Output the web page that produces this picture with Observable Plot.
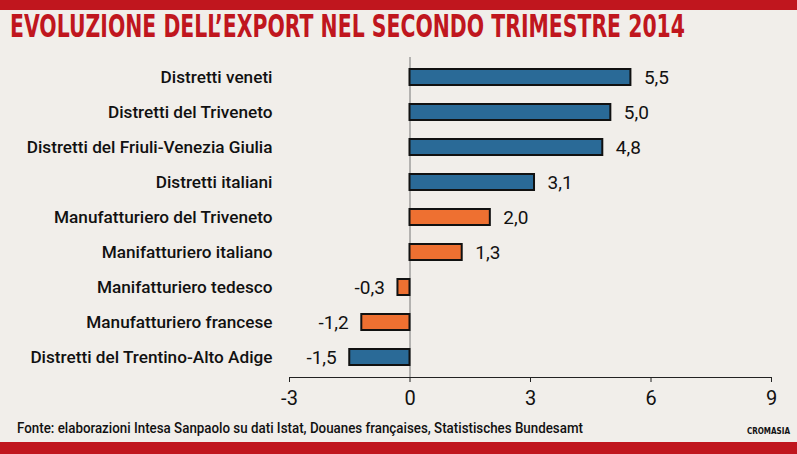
<!DOCTYPE html>
<html>
<head>
<meta charset="utf-8">
<script src="https://cdn.jsdelivr.net/npm/d3@7"></script>
<script src="https://cdn.jsdelivr.net/npm/@observablehq/plot@0.6"></script>
<style>
  html, body { margin: 0; padding: 0; }
  body { width: 797px; height: 454px; background: #f1eeea; position: relative; overflow: hidden; font-family: Roboto, "Open Sans", sans-serif; }
  #topband { position: absolute; left: 0; top: 0; width: 797px; height: 10px; background: #c0161e; }
  #title { position: absolute; left: 10px; top: 7px; font-family: "Liberation Sans Narrow", "DejaVu Sans Condensed", sans-serif; font-weight: bold; font-size: 32px; color: #c0161e; white-space: nowrap; transform-origin: left top; }
  #chart { position: absolute; left: 0; top: 50px; }
  #caption { position: absolute; left: 17px; top: 419px; font-size: 15px; color: #111; white-space: nowrap; font-weight: 500; transform-origin: left top; }
  #credit { position: absolute; right: 7px; top: 427px; font-size: 8px; font-weight: bold; color: #111; font-family: "Liberation Sans Narrow", "DejaVu Sans Condensed", sans-serif; }
  #botband { position: absolute; left: 0; top: 442px; width: 797px; height: 12px; background: #c0161e; }
</style>
</head>
<body>
<div id="topband"></div>
<div id="title">EVOLUZIONE DELL’EXPORT NEL SECONDO TRIMESTRE 2014</div>
<div id="chart"></div>
<div id="caption">Fonte: elaborazioni Intesa Sanpaolo su dati Istat, Douanes françaises, Statistisches Bundesamt</div>
<div id="credit">CROMASIA</div>
<div id="botband"></div>
<script>
const categories = [
  "Distretti veneti",
  "Distretti del Triveneto",
  "Distretti del Friuli-Venezia Giulia",
  "Distretti italiani",
  "Manufatturiero del Triveneto",
  "Manifatturiero italiano",
  "Manifatturiero tedesco",
  "Manufatturiero francese",
  "Distretti del Trentino-Alto Adige"
];
const values = [5.5, 5.0, 4.8, 3.1, 2.0, 1.3, -0.3, -1.2, -1.5];
const groups = ["Distretti", "Distretti", "Distretti", "Distretti", "Manifatturiero", "Manifatturiero", "Manifatturiero", "Manifatturiero", "Distretti"];
const xTicks = [-3, 0, 3, 6, 9];
const groupNames = ["Distretti", "Manifatturiero"];
const groupColors = ["#2a6a97", "#ee7031"];

const data = categories.map((c, i) => ({cat: c, value: values[i], group: groups[i]}));
const fmt = v => v.toFixed(1).replace(".", ",");

const chart = Plot.plot({
  width: 797,
  height: 365,
  marginLeft: 289,
  marginRight: 26,
  marginTop: 7,
  marginBottom: 38,
  style: {background: "transparent", fontFamily: "Roboto, 'Open Sans', sans-serif", color: "#111"},
  x: {domain: [-3, 9], label: null},
  y: {domain: categories, paddingInner: 0.55, paddingOuter: 0.28, label: null},
  color: {domain: groupNames, range: groupColors},
  marks: [
    Plot.ruleX([0], {stroke: "#777", strokeWidth: 1}),
    Plot.frame({anchor: "bottom", stroke: "#222", strokeWidth: 1}),
    Plot.axisX({ticks: xTicks, tickFormat: d => String(d), tickSize: 5, tickPadding: 8, fontSize: 20, stroke: "#222", label: null}),
    Plot.axisY({tickSize: 0, tickPadding: 17, fontSize: 17.2, fontWeight: 500, label: null}),
    Plot.barX(data, {x: "value", y: "cat", fill: "group", stroke: "#111", strokeWidth: 2}),
    Plot.text(data.filter(d => d.value >= 0), {x: "value", y: "cat", text: d => fmt(d.value), textAnchor: "start", dx: 13, fontSize: 19, fill: "#111"}),
    Plot.text(data.filter(d => d.value < 0), {x: "value", y: "cat", text: d => fmt(d.value), textAnchor: "end", dx: -13, fontSize: 19, fill: "#111"})
  ]
});
document.getElementById("chart").appendChild(chart);

// fit title and caption widths to the reference span
const fit = (id, target) => {
  const el = document.getElementById(id);
  const w = el.getBoundingClientRect().width;
  el.style.transform = `scaleX(${target / w})`;
};
fit("title", 675);
fit("caption", 566);
</script>
</body>
</html>
